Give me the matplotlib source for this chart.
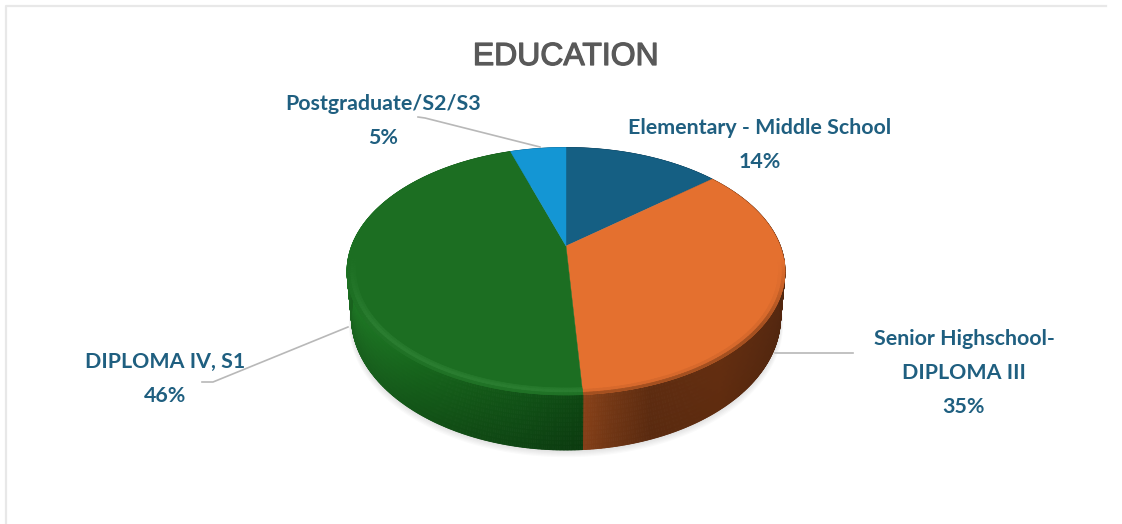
import numpy as np
import matplotlib
matplotlib.use("Agg")
import matplotlib.pyplot as plt
import matplotlib.patheffects as pe
from matplotlib.collections import PolyCollection
from matplotlib.colors import to_rgb

title = "EDUCATION"
labels = ["Elementary - Middle School", "Senior Highschool-\nDIPLOMA III", "DIPLOMA IV, S1", "Postgraduate/S2/S3"]
values = [14, 35, 46, 5]
top_colors = ["#155F83", "#E4702F", "#1C6E22", "#1496D4"]

# wall shading along the screen x axis
wall_x = [[347, 785], [583, 610, 650, 720, 785], [347, 420, 480, 520, 583], [347, 785]]
wall_colors = [["#0E3F58", "#0E3F58"],
               ["#8A4219", "#753815", "#5E2C10", "#642E10", "#552810"],
               ["#1B6B21", "#145A19", "#114F15", "#0F4A14", "#0C3F10"],
               ["#0C648E", "#0C648E"]]

# label centres and leader lines
label_xy = [(760, 145), (964, 373), (165, 379), (383, 121)]
leader_x = [[418, 425, 540], [775, 853], [348, 213, 202]]
leader_y = [[117, 118, 147], [353, 353], [327, 382, 382]]

# perspective of the pie disc
cx, cy = 566, 246
A, B, k = 214.4, 118.6, 0.204
depth = 43.8


def project(theta, r=1.0, t=0.0):
    u = r * np.sin(theta)
    v = r * np.cos(theta)
    w = 1 + k * v
    x = cx + A * u / w * (1 - 0.02 * t)
    y = cy - B * v / w + depth * t / w
    return x, y


def ramp(x, xs, cols):
    rgb = np.array([to_rgb(c) for c in cols])
    return np.column_stack([np.interp(x, xs, rgb[:, i]) for i in range(3)])


fig = plt.figure(figsize=(11.22, 5.24), dpi=100)
ax = fig.add_axes([0, 0, 1, 1])
ax.set_xlim(0, 1122)
ax.set_ylim(524, 0)
ax.axis("off")

# panel border, only top and left show
ax.plot([6, 6, 1106], [524, 6, 6], color="#E8E8E8", lw=1.6, zorder=1)

edges = np.cumsum([0] + values) / sum(values) * 2 * np.pi

# soft shadow under the pie
ring = np.linspace(0, 2 * np.pi, 240)
for i in range(7):
    sx, sy = project(ring, 1.0, 1.0)
    ax.fill(cx + (sx - cx) * (1 + 0.002 * i), sy + 1.2 * i, color="#000000", alpha=0.018, lw=0, zorder=2)

for xs, ys in zip(leader_x, leader_y):
    ax.plot(xs, ys, color="#B8B8B8", lw=1.2, zorder=2)

# side wall, thin quads so the gradient stays smooth
ts = np.linspace(0, 1, 13)
for i in range(len(values)):
    th = np.linspace(edges[i], edges[i + 1], 4 + values[i] * 12)
    quads, cols = [], []
    for t0, t1 in zip(ts[:-1], ts[1:]):
        x0, y0 = project(th, 1.0, t0)
        x1, y1 = project(th, 1.0, t1)
        c = ramp((x0[:-1] + x0[1:]) / 2, wall_x[i], wall_colors[i])
        # upper part of the wall catches more light
        c = c * (1.14 - 0.22 * (t0 + t1) / 2 if i == 2 else 1.0 - 0.05 * (t0 + t1) / 2)
        for j in range(len(th) - 1):
            quads.append([(x0[j], y0[j]), (x0[j + 1], y0[j + 1]), (x1[j + 1], y1[j + 1]), (x1[j], y1[j])])
            cols.append(np.clip(c[j], 0, 1))
    ax.add_collection(PolyCollection(quads, facecolors=cols, edgecolors=cols, linewidths=0.6, zorder=3))

# top face
for i in range(len(values)):
    th = np.linspace(edges[i], edges[i + 1], 60)
    x, y = project(th)
    ax.fill(np.r_[cx, x], np.r_[cy, y], color=top_colors[i], lw=0.3, zorder=4)

# bevel on the front rim: light on the green part, dark on the orange part
rim_r = [0.962, 0.972, 0.988, 1.0]
rim_mix = {1: ([0.0, 0.0, 0.2, 0.75], "#5E2C10"), 2: ([0.0, 0.4, 0.15, 0.0], "#4FA556")}
for i, (mix, tint) in rim_mix.items():
    th = np.linspace(edges[i], edges[i + 1], 160)
    th = th[np.cos(th) < -0.1]
    fade = np.clip((-np.cos(th) - 0.1) / 0.5, 0, 1)
    quads, cols = [], []
    for n in range(3):
        x0, y0 = project(th, rim_r[n])
        x1, y1 = project(th, rim_r[n + 1])
        for j in range(len(th) - 1):
            m = (mix[n] + mix[n + 1]) / 2 * fade[j]
            c = (1 - m) * np.array(to_rgb(top_colors[i])) + m * np.array(to_rgb(tint))
            quads.append([(x0[j], y0[j]), (x0[j + 1], y0[j + 1]), (x1[j + 1], y1[j + 1]), (x1[j], y1[j])])
            cols.append(c)
    ax.add_collection(PolyCollection(quads, facecolors=cols, edgecolors=cols, linewidths=0.5, zorder=5))

ax.text(566, 57, title, ha="center", va="center", color="#595959", family="Liberation Sans",
        fontsize=23, zorder=6, path_effects=[pe.withStroke(linewidth=0.9, foreground="#595959")])

for lab, val, (lx, ly) in zip(labels, values, label_xy):
    ax.text(lx, ly, f"{lab}\n{val}%", ha="center", va="center", multialignment="center",
            color="#1F5F80", family="Lato", fontweight="bold", fontsize=15.4, linespacing=1.86, zorder=6)

fig.savefig("out.png", dpi=100, facecolor="white")
